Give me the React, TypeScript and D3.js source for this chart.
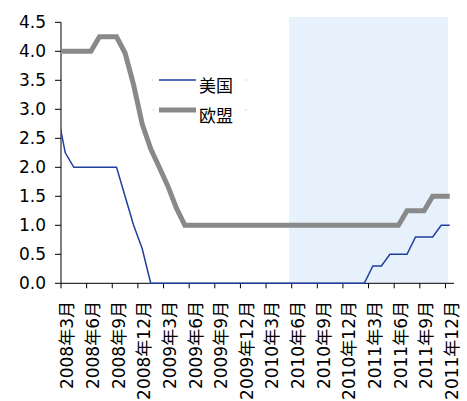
import React from "react";
import * as d3 from "d3";

// Monthly values from 2008-02 (index -1) to 2011-12 (index 45)
const usRates: number[] = [
  3.0,
  2.25, 2.0, 2.0, 2.0, 2.0, 2.0, 2.0, 1.5, 1.0, 0.6,
  0, 0, 0, 0, 0, 0, 0, 0, 0, 0, 0, 0, 0, 0, 0, 0, 0, 0, 0, 0, 0, 0, 0, 0, 0, 0,
  0.3, 0.3, 0.5, 0.5, 0.5, 0.8, 0.8, 0.8, 1.0, 1.0,
];
const euRates: number[] = [
  4.0,
  4.0, 4.0, 4.0, 4.0, 4.25, 4.25, 4.25, 3.97, 3.42, 2.75, 2.32, 2.0, 1.68, 1.3, 1.0,
  1.0, 1.0, 1.0, 1.0, 1.0, 1.0, 1.0, 1.0, 1.0, 1.0, 1.0, 1.0, 1.0, 1.0, 1.0, 1.0, 1.0,
  1.0, 1.0, 1.0, 1.0, 1.0, 1.0, 1.0, 1.0,
  1.25, 1.25, 1.25, 1.5, 1.5, 1.5,
];
const firstIndex = -1; // 2008-02
const monthCount = 46; // 2008-03 .. 2011-12 on the axis
const xTickLabels: string[] = [
  "2008年3月", "2008年6月", "2008年9月", "2008年12月",
  "2009年3月", "2009年6月", "2009年9月", "2009年12月",
  "2010年3月", "2010年6月", "2010年9月", "2010年12月",
  "2011年3月", "2011年6月", "2011年9月", "2011年12月",
];
const yTicks: number[] = [0, 0.5, 1, 1.5, 2, 2.5, 3, 3.5, 4, 4.5];
const shadeRange: [number, number] = [26.7, 45.3]; // month-position band
const seriesNames = ["美国", "欧盟"];

const W = 467, H = 401;
const left = 61, right = 454, top = 22.3, bottom = 283.3;
const FONT = "'DejaVu Sans', 'Noto Sans CJK SC', sans-serif";

export default function App() {
  const x = d3.scaleLinear().domain([0, monthCount]).range([left, right]);
  const y = d3.scaleLinear().domain([0, 4.5]).range([bottom, top]);
  const cx = (i: number) => x(i + 0.5);

  const line = d3
    .line<number>()
    .x((_, i) => cx(i + firstIndex))
    .y((v) => y(v));

  const blue = "#1f3f9f";
  const gray = "#898989";

  return (
    <svg width={W} height={H} style={{ position: "absolute", left: 0, top: 0 }} fontFamily={FONT}>
      <defs>
        <clipPath id="plotClip">
          <rect x={left} y={0} width={W - left} height={H} />
        </clipPath>
      </defs>
      <rect x={0} y={0} width={W} height={H} fill="#ffffff" />
      <rect
        x={x(shadeRange[0])}
        y={17}
        width={x(shadeRange[1]) - x(shadeRange[0])}
        height={bottom - 17}
        fill="#e6f1fc"
      />
      {/* y axis */}
      <line x1={left} x2={left} y1={y(4.5)} y2={bottom} stroke="#000" strokeWidth={1} />
      {yTicks.map((t) => (
        <g key={t}>
          <line x1={left - 6} x2={left} y1={y(t)} y2={y(t)} stroke="#000" />
          <text x={left - 15} y={y(t)} dy="0.36em" textAnchor="end" fontSize={17} fill="#000">
            {t.toFixed(1)}
          </text>
        </g>
      ))}
      {/* x axis */}
      <line x1={left} x2={right} y1={bottom} y2={bottom} stroke="#000" />
      {xTickLabels.map((lab, k) => (
        <g key={lab}>
          <line x1={x(3 * k)} x2={x(3 * k)} y1={bottom} y2={bottom + 5} stroke="#000" />
          <text
            transform={`translate(${cx(3 * k) + 2},${301}) rotate(-90)`}
            textAnchor="end"
            dy="0.36em"
            fontSize={17}
            fill="#000"
          >
            {lab}
          </text>
        </g>
      ))}
      <g clipPath="url(#plotClip)">
        <path d={line(euRates) || ""} fill="none" stroke={gray} strokeWidth={5} />
        <path d={line(usRates) || ""} fill="none" stroke={blue} strokeWidth={1.5} />
      </g>
      {/* legend */}
      {seriesNames.map((name, i) => {
        const ly = 80 + i * 30;
        return (
          <g key={name}>
            <line x1={152} x2={154} y1={ly} y2={ly} stroke="#d8d8d8" />
            <line x1={245} x2={247} y1={ly} y2={ly} stroke="#d8d8d8" />
            <line
              x1={159}
              x2={196}
              y1={ly}
              y2={ly}
              stroke={i === 0 ? blue : gray}
              strokeWidth={i === 0 ? 1.5 : 5}
            />
            <text x={199} y={ly + 6} dy="0.36em" fontSize={17} fill="#000">
              {name}
            </text>
          </g>
        );
      })}
    </svg>
  );
}
